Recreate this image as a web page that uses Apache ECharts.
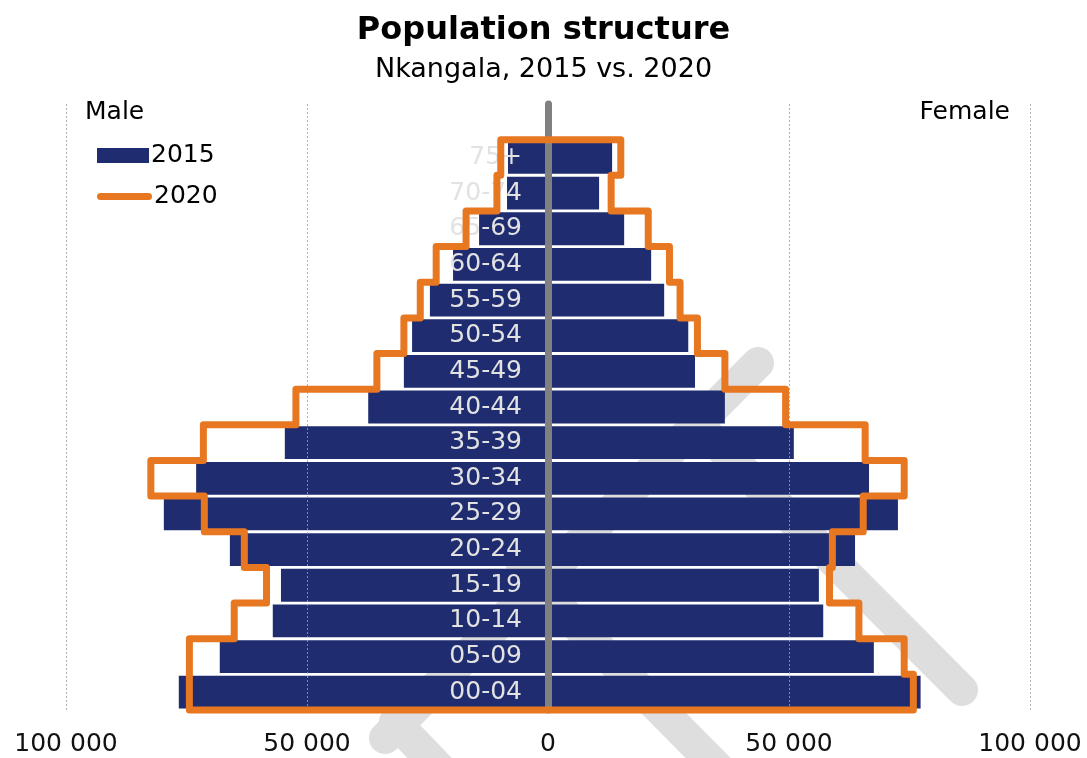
<!DOCTYPE html>
<html>
<head>
<meta charset="utf-8">
<script src="https://cdn.jsdelivr.net/npm/echarts@6/dist/echarts.min.js"></script>
<style>
  html, body { margin: 0; padding: 0; background: #ffffff; }
  #chart { width: 1087px; height: 758px; }
</style>
</head>
<body>
<div id="chart"></div>
<script>
// Age bands, youngest first (bottom of the pyramid)
const ageGroups = ['00-04', '05-09', '10-14', '15-19', '20-24', '25-29', '30-34', '35-39',
                   '40-44', '45-49', '50-54', '55-59', '60-64', '65-69', '70-74', '75+'];

// Population counts per age band
const male2015   = [76600, 68100, 57100, 55400, 66000, 79700, 73000, 54600, 37300, 29900, 28200, 24500, 19700, 14300, 8500, 8300];
const female2015 = [77300, 67600, 57100, 56200, 63700, 72600, 66600, 51000, 36700, 30500, 29100, 24100, 21400, 15800, 10600, 13300];
const male2020   = [74400, 74400, 65100, 58400, 63000, 71300, 82400, 71500, 52300, 35500, 29900, 26500, 23200, 17000, 10600, 9800];
const female2020 = [75800, 73900, 64500, 58400, 59000, 65400, 73900, 65800, 49300, 36700, 31000, 27400, 25200, 20800, 13100, 15100];

// Horizontal axis ticks (male to the left, female to the right)
const xTicks = [-100000, -50000, 0, 50000, 100000];

const FONT = 'DejaVu Sans';
const NAVY = '#1f2d70';
const ORANGE = '#e87722';

function fmtThousands(v) {
  return String(Math.abs(v)).replace(/\B(?=(\d{3})+(?!\d))/g, ' ');
}

// Closed step outline of the 2020 pyramid, built from the axis scales
function renderOutline(params, api) {
  if (params.dataIndex !== 0) return null;
  const half = api.size([0, 1])[1] / 2;
  const pts = [];
  for (let i = 0; i < ageGroups.length; i++) {
    const p = api.coord([-male2020[i], i]);
    pts.push([p[0], p[1] + half], [p[0], p[1] - half]);
  }
  for (let i = ageGroups.length - 1; i >= 0; i--) {
    const p = api.coord([female2020[i], i]);
    pts.push([p[0], p[1] - half], [p[0], p[1] + half]);
  }
  return {
    type: 'polygon',
    shape: { points: pts },
    style: { fill: 'none', stroke: ORANGE, lineWidth: 7, lineJoin: 'round' }
  };
}

// Faint background logo strokes
const logoStrokes = [
  [[758, 363], [385, 738]],
  [[693, 420], [962, 690]],
  [[522, 570], [720, 770]],
  [[395, 722], [470, 800]]
];

const capsule = 'path://M3.5,0H51.5A3.5,3.5,0,0,1,51.5,7H3.5A3.5,3.5,0,0,1,3.5,0Z';

const chart = echarts.init(document.getElementById('chart'));
chart.setOption({
  animation: false,
  backgroundColor: '#ffffff',
  textStyle: { fontFamily: FONT },
  title: [
    { text: 'Population structure', left: 'center', top: 15, padding: 0,
      textStyle: { fontFamily: FONT, fontSize: 32, fontWeight: 'bold', color: '#000' } },
    { text: 'Nkangala, 2015 vs. 2020', left: 'center', top: 56, padding: 0,
      textStyle: { fontFamily: FONT, fontSize: 27, fontWeight: 'normal', color: '#000' } },
    { text: 'Male', left: 85, top: 100, padding: 0,
      textStyle: { fontFamily: FONT, fontSize: 25, fontWeight: 'normal', color: '#000' } },
    { text: 'Female', right: 77, top: 100, padding: 0,
      textStyle: { fontFamily: FONT, fontSize: 25, fontWeight: 'normal', color: '#000' } }
  ],
  legend: [
    { data: ['2015'], left: 97, top: 143, padding: 0, icon: 'rect',
      itemWidth: 52, itemHeight: 15, itemGap: 0,
      textStyle: { fontFamily: FONT, fontSize: 25, color: '#000', padding: [0, 0, 0, -3] } },
    { data: ['2020'], left: 97, top: 184, padding: 0, icon: capsule,
      itemWidth: 55, itemHeight: 7, itemGap: 0,
      textStyle: { fontFamily: FONT, fontSize: 25, color: '#000', padding: [0, 0, 0, -3] } }
  ],
  graphic: {
    elements: logoStrokes.map(s => ({
      type: 'line', z: 1, silent: true,
      shape: { x1: s[0][0], y1: s[0][1], x2: s[1][0], y2: s[1][1] },
      style: { stroke: '#dedede', lineWidth: 32, lineCap: 'round' }
    }))
  },
  grid: { left: 66, right: 57, top: 104, bottom: 48, containLabel: false, outerBoundsMode: 'none' },
  xAxis: {
    type: 'value',
    min: xTicks[0],
    max: xTicks[xTicks.length - 1],
    interval: xTicks[1] - xTicks[0],
    // dotted grid lines stay visible across the bars
    z: 3,
    axisLine: { show: false },
    axisTick: { show: false },
    splitLine: { show: true, lineStyle: { type: [2, 2], color: '#a0a0a0', width: 1, opacity: 0.8 } },
    axisLabel: { formatter: fmtThousands, fontFamily: FONT, fontSize: 25, color: '#111', margin: 22 }
  },
  yAxis: {
    type: 'category',
    // blank top row leaves room for the Male / Female headings
    data: [...ageGroups, ''],
    z: 4,
    axisLine: { onZero: true, lineStyle: { color: '#808080', width: 7, cap: 'round' } },
    axisTick: { show: false },
    splitLine: { show: false },
    axisLabel: { show: false }
  },
  series: [
    { name: '2015', type: 'bar', data: male2015.map(v => -v), barGap: '-100%', barCategoryGap: '8%',
      itemStyle: { color: NAVY }, z: 2,
      // age-band names sit just left of the centre line
      label: { show: true, position: 'insideRight', distance: 26,
               formatter: p => ageGroups[p.dataIndex],
               fontFamily: FONT, fontSize: 25, color: '#e2e2e2' } },
    { name: '2015', type: 'bar', data: female2015, barGap: '-100%', barCategoryGap: '8%',
      itemStyle: { color: NAVY }, z: 2 },
    { name: '2020', type: 'custom', renderItem: renderOutline,
      encode: { x: 0, y: 1 },
      data: ageGroups.map((g, i) => [female2020[i], i]),
      itemStyle: { color: ORANGE }, z: 5, silent: true }
  ]
});
</script>
</body>
</html>
